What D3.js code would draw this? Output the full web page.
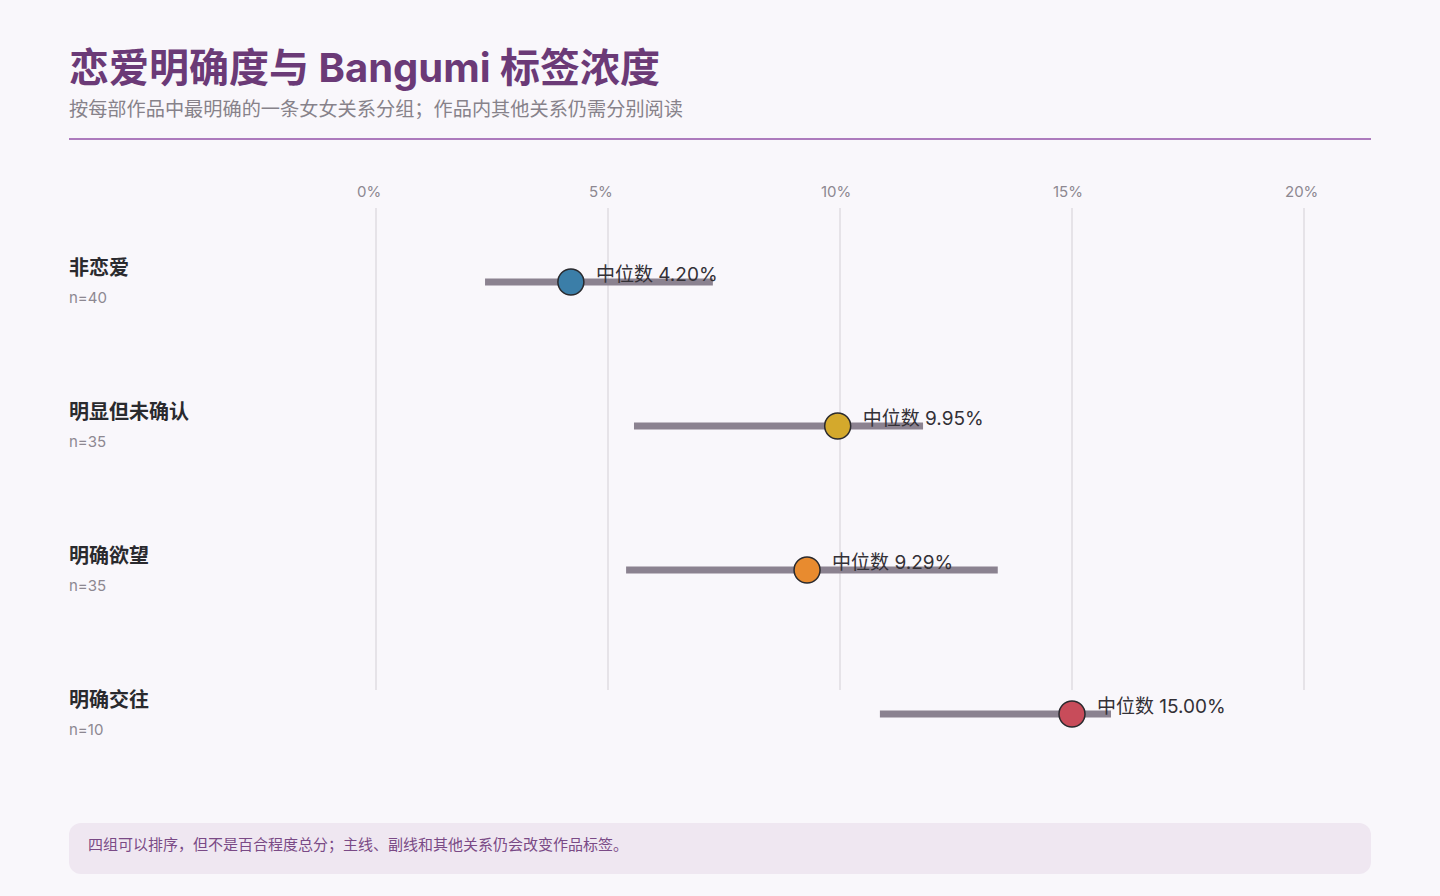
<!DOCTYPE html>
<html>
<head>
<meta charset="utf-8">
<script src="https://cdn.jsdelivr.net/npm/d3@7"></script>
<style>
  html, body { margin: 0; padding: 0; background: #f9f7fb; }
  svg { display: block; font-family: Inter, "Noto Sans CJK SC", "Noto Sans", sans-serif; }
</style>
</head>
<body>
<div id="chart"></div>
<script>
// data
var groups = ["非恋爱", "明显但未确认", "明确欲望", "明确交往"];
var counts = [40, 35, 35, 10];
var medians = [4.20, 9.95, 9.29, 15.00];
var lows = [2.35, 5.56, 5.39, 10.86];
var highs = [7.26, 11.79, 13.40, 15.84];
var colors = ["#3b7ea8", "#d4a92c", "#e88b2f", "#c84c5a"];
var ticks = [0, 5, 10, 15, 20];

var W = 1440, H = 896;
var margin = {left: 69, right: 69};

var svg = d3.select("#chart").append("svg")
    .attr("width", W)
    .attr("height", H);

svg.append("rect").attr("width", W).attr("height", H).attr("fill", "#f9f7fb");

// header
svg.append("text")
    .attr("x", margin.left).attr("y", 82)
    .attr("fill", "#6b3a77")
    .attr("font-size", 40).attr("font-weight", 700)
    .text("恋爱明确度与 Bangumi 标签浓度");

svg.append("text")
    .attr("x", margin.left).attr("y", 116)
    .attr("fill", "#87828a")
    .attr("font-size", 19.2)
    .text("按每部作品中最明确的一条女女关系分组；作品内其他关系仍需分别阅读");

svg.append("line")
    .attr("x1", margin.left).attr("x2", W - margin.right)
    .attr("y1", 139).attr("y2", 139)
    .attr("stroke", "#ad7bbd").attr("stroke-width", 2);

// scales
var x = d3.scaleLinear().domain([0, 20]).range([376, 1304]);
var y = d3.scalePoint().domain(groups).range([282, 714]);

// grid + tick labels
var grid = svg.append("g");
grid.selectAll("line").data(ticks).join("line")
    .attr("x1", d => x(d)).attr("x2", d => x(d))
    .attr("y1", 208).attr("y2", 690)
    .attr("stroke", "#d9d5dc").attr("stroke-width", 1.2);
grid.selectAll("text").data(ticks).join("text")
    .attr("x", d => x(d) - 19).attr("y", 197)
    .attr("fill", "#8d8891").attr("font-size", 15)
    .text(d => d + "%");

var rows = svg.append("g").selectAll("g").data(groups).join("g");

// left labels
rows.append("text")
    .attr("x", margin.left).attr("y", (d) => y(d) - 7)
    .attr("fill", "#2a2a2e").attr("font-size", 20).attr("font-weight", 700)
    .text(d => d);
rows.append("text")
    .attr("x", margin.left).attr("y", (d) => y(d) + 21)
    .attr("fill", "#8d8891").attr("font-size", 15)
    .text((d, i) => "n=" + counts[i]);

// range bars
rows.append("line")
    .attr("x1", (d, i) => x(lows[i])).attr("x2", (d, i) => x(highs[i]))
    .attr("y1", d => y(d)).attr("y2", d => y(d))
    .attr("stroke", "#8b8290").attr("stroke-width", 7);

// median points
rows.append("circle")
    .attr("cx", (d, i) => x(medians[i])).attr("cy", d => y(d))
    .attr("r", 13)
    .attr("fill", (d, i) => colors[i])
    .attr("stroke", "#2a2a2e").attr("stroke-width", 1.5);

rows.append("text")
    .attr("x", (d, i) => x(medians[i]) + 25).attr("y", d => y(d) - 1)
    .attr("fill", "#333036").attr("font-size", 19)
    .text((d, i) => "中位数 " + medians[i].toFixed(2) + "%");

// footer note
svg.append("rect")
    .attr("x", margin.left).attr("y", 823)
    .attr("width", W - margin.left - margin.right).attr("height", 51)
    .attr("rx", 12)
    .attr("fill", "#efe7f1");
svg.append("text")
    .attr("x", 88).attr("y", 850)
    .attr("fill", "#7a4a86").attr("font-size", 15)
    .text("四组可以排序，但不是百合程度总分；主线、副线和其他关系仍会改变作品标签。");
</script>
</body>
</html>
